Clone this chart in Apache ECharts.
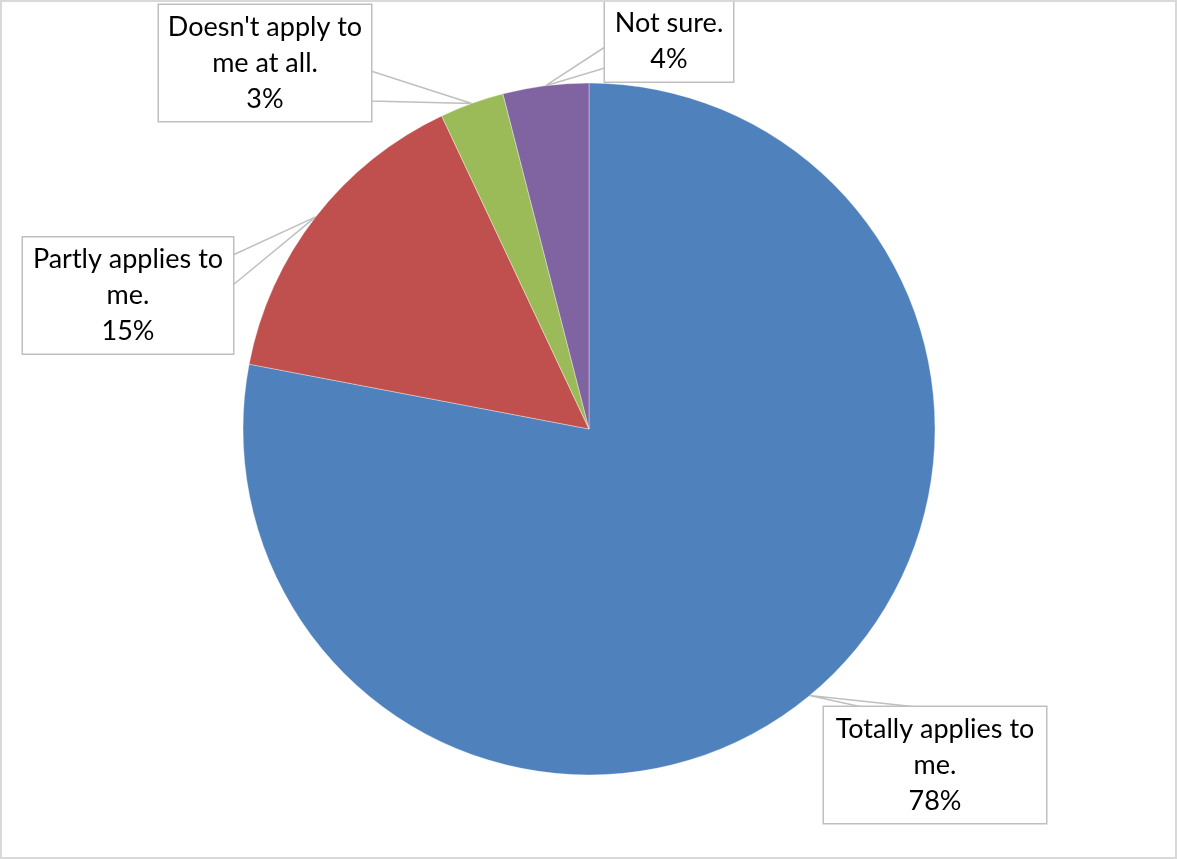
<!DOCTYPE html>
<html>
<head>
<meta charset="utf-8">
<script src="https://cdn.jsdelivr.net/npm/echarts@6/dist/echarts.min.js"></script>
<style>
  html, body { margin: 0; padding: 0; background: #ffffff; }
  #chart { position: absolute; left: 0; top: 0; width: 1177px; height: 859px; }
  #frame {
    position: absolute; left: 0; top: 0; width: 1177px; height: 859px;
    border: 2px solid #D9D9D9; box-sizing: border-box; pointer-events: none;
  }
</style>
</head>
<body>
<div id="chart"></div>
<div id="frame"></div>
<script>
// Survey answers, clockwise from twelve o'clock
const categories = ['Totally applies to\nme.', 'Partly applies to\nme.', "Doesn't apply to\nme at all.", 'Not sure.'];
const shares = [78, 15, 3, 4];
const sliceColors = ['#4F81BD', '#C0504D', '#9BBB59', '#8064A2'];

// Callout boxes in px: box rect plus the stretch of one edge the pointer wedge leaves from
const callouts = [
  { left: 824, top: 707, width: 222, height: 116, side: 'top',   from: 38, to: 93 },
  { left: 23,  top: 237, width: 210, height: 117, side: 'right', from: 18, to: 48 },
  { left: 159, top: 5,   width: 212, height: 116, side: 'right', from: 66, to: 96 },
  { left: 605, top: 1,   width: 128, height: 81,  side: 'left',  from: 46, to: 67 }
];

const PIE_CENTER = [589, 429];
const PIE_RADIUS = 346;
const PAD_X = 6;
const PAD_Y = 4;
const LINE_GRAY = '#BFBFBF';

function wedgeBase(c) {
  if (c.side === 'top') return [[c.left + c.from, c.top], [c.left + c.to, c.top]];
  if (c.side === 'left') return [[c.left, c.top + c.from], [c.left, c.top + c.to]];
  if (c.side === 'right') return [[c.left + c.width, c.top + c.from], [c.left + c.width, c.top + c.to]];
  return [[c.left + c.from, c.top + c.height], [c.left + c.to, c.top + c.height]];
}

// Point on the rim at the middle of a slice (used if the series gives none)
function rimPoint(i) {
  const total = shares.reduce((s, v) => s + v, 0);
  let before = 0;
  for (let k = 0; k < i; k++) before += shares[k];
  const frac = (before + shares[i] / 2) / total;
  const ang = frac * Math.PI * 2;
  return [PIE_CENTER[0] + PIE_RADIUS * Math.sin(ang), PIE_CENTER[1] - PIE_RADIUS * Math.cos(ang)];
}

const chart = echarts.init(document.getElementById('chart'), null, { renderer: 'canvas' });

chart.setOption({
  animation: false,
  backgroundColor: '#ffffff',
  color: sliceColors,
  series: [{
    type: 'pie',
    center: PIE_CENTER,
    radius: PIE_RADIUS,
    startAngle: 90,
    clockwise: true,
    avoidLabelOverlap: false,
    emphasis: { disabled: true },
    itemStyle: { borderColor: 'rgba(255,255,255,0.6)', borderWidth: 0.6 },
    data: categories.map((name, i) => ({ name: name, value: shares[i] })),
    label: {
      show: true,
      position: 'outside',
      formatter: '{b}\n{c}%',
      overflow: 'none',
      color: '#000000',
      fontFamily: 'Lato, "Open Sans", sans-serif',
      fontSize: 27,
      lineHeight: 36,
      align: 'center',
      backgroundColor: '#ffffff',
      borderColor: LINE_GRAY,
      borderWidth: 1.5,
      padding: [PAD_Y + 1, PAD_X, PAD_Y - 1, PAD_X]
    },
    labelLine: {
      show: true,
      smooth: false,
      length: 10,
      length2: 10,
      lineStyle: { color: LINE_GRAY, width: 1.5 }
    },
    labelLayout: function (params) {
      const i = params.dataIndex;
      const c = callouts[i];
      const pts = params.labelLinePoints;
      const tip = (pts && pts[0]) ? [pts[0][0], pts[0][1]] : rimPoint(i);
      const base = wedgeBase(c);
      return {
        x: c.left + c.width / 2,
        y: c.top + c.height / 2,
        align: 'center',
        verticalAlign: 'middle',
        width: c.width - 2 * PAD_X,
        labelLinePoints: [tip, base[0], base[1], tip]
      };
    }
  }]
});
</script>
</body>
</html>
